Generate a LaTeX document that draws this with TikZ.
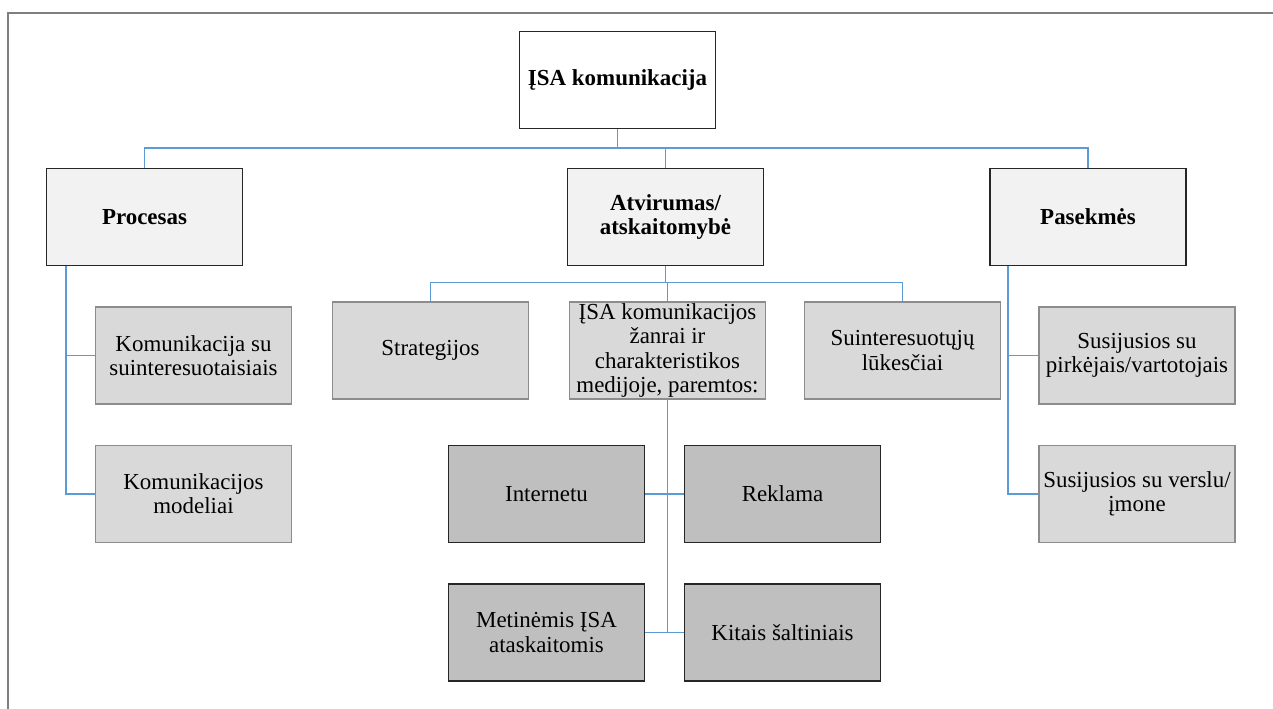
\documentclass[tikz,border=0pt]{standalone}
\usepackage{fontspec}
\setmainfont{Liberation Serif}
\definecolor{connblue}{HTML}{5B9BD5}
\definecolor{framegray}{HTML}{7F7F7F}
\definecolor{fillA}{HTML}{F2F2F2}
\definecolor{fillB}{HTML}{D9D9D9}
\definecolor{fillC}{HTML}{BFBFBF}
\definecolor{edgeB}{HTML}{8C8C8C}
\definecolor{edgeA}{HTML}{262626}
\begin{document}
\begin{tikzpicture}[x=0.75pt,y=-0.75pt,
  boxbase/.style={rectangle, minimum width=147pt, minimum height=72.75pt, inner sep=0pt, align=center,
    font=\fontsize{17.2}{18.2}\selectfont, line width=1.4pt},
  lvlroot/.style={boxbase, draw=edgeA, fill=white, font=\fontsize{17.2}{18.2}\selectfont\bfseries},
  lvlone/.style={boxbase, draw=edgeA, fill=fillA, font=\fontsize{17.2}{18.2}\selectfont\bfseries},
  lvltwo/.style={boxbase, draw=edgeB, fill=fillB},
  lvlthree/.style={boxbase, draw=edgeA, fill=fillC},
  conn/.style={draw=connblue, line width=1.4pt}]
\useasboundingbox (0,0) rectangle (1273,709);
\draw[framegray, line width=1.8pt] (8,709) -- (8,13) -- (1273,13);

\node[lvlroot] (root) at (617.5,80) {ĮSA komunikacija};
\node[lvlone] (proc) at (144.5,217) {Procesas};
\node[lvlone] (atv) at (665.5,217) {Atvirumas/\\atskaitomybė};
\node[lvlone] (pas) at (1088,217) {Pasekmės};

\node[lvltwo] (kom1) at (193.5,355.5) {Komunikacija su\\suinteresuotaisiais};
\node[lvltwo] (kom2) at (193.5,494) {Komunikacijos\\modeliai};

\node[lvltwo] (strat) at (430.5,350.5) {Strategijos};
\node[lvltwo] (zanr) at (667.5,350.5) {ĮSA komunikacijos\\žanrai ir\\charakteristikos\\medijoje, paremtos:};
\node[lvltwo] (suint) at (902.5,350.5) {Suinteresuotųjų\\lūkesčiai};

\node[lvlthree] (int) at (546.5,494) {Internetu};
\node[lvlthree] (rek) at (782.5,494) {Reklama};
\node[lvlthree] (met) at (546.5,632.5) {Metinėmis ĮSA\\ataskaitomis};
\node[lvlthree] (kit) at (782.5,632.5) {Kitais šaltiniais};

\node[lvltwo] (sus1) at (1137,355.5) {Susijusios su\\pirkėjais/vartotojais};
\node[lvltwo] (sus2) at (1137,494) {Susijusios su verslu/\\įmone};

% top level
\draw[conn] (root.south) -- ++(0,19) coordinate (b1);
\draw[conn] (proc.north) |- (b1);
\draw[conn] (pas.north) |- (b1);
\draw[conn] (atv.north) |- (b1);

% Procesas branch
\coordinate (pl) at ([xshift=15pt]proc.south west);
\draw[conn] (pl) |- (kom1.west);
\draw[conn] (pl) |- (kom2.west);

% Pasekmes branch
\coordinate (ql) at ([xshift=14.25pt]pas.south west);
\draw[conn] (ql) |- (sus1.west);
\draw[conn] (ql) |- (sus2.west);

% Atvirumas branch
\draw[conn] (atv.south) -- ++(0,16) coordinate (b2);
\draw[conn] (strat.north) |- (b2);
\draw[conn] (suint.north) |- (b2);
\draw[conn] (zanr.north) |- (b2);

% zanrai subtree
\draw[conn] (zanr.south) -- (zanr.south |- met.east);
\draw[conn] (int.east) -- (rek.west);
\draw[conn] (met.east) -- (kit.west);
\end{tikzpicture}
\end{document}
